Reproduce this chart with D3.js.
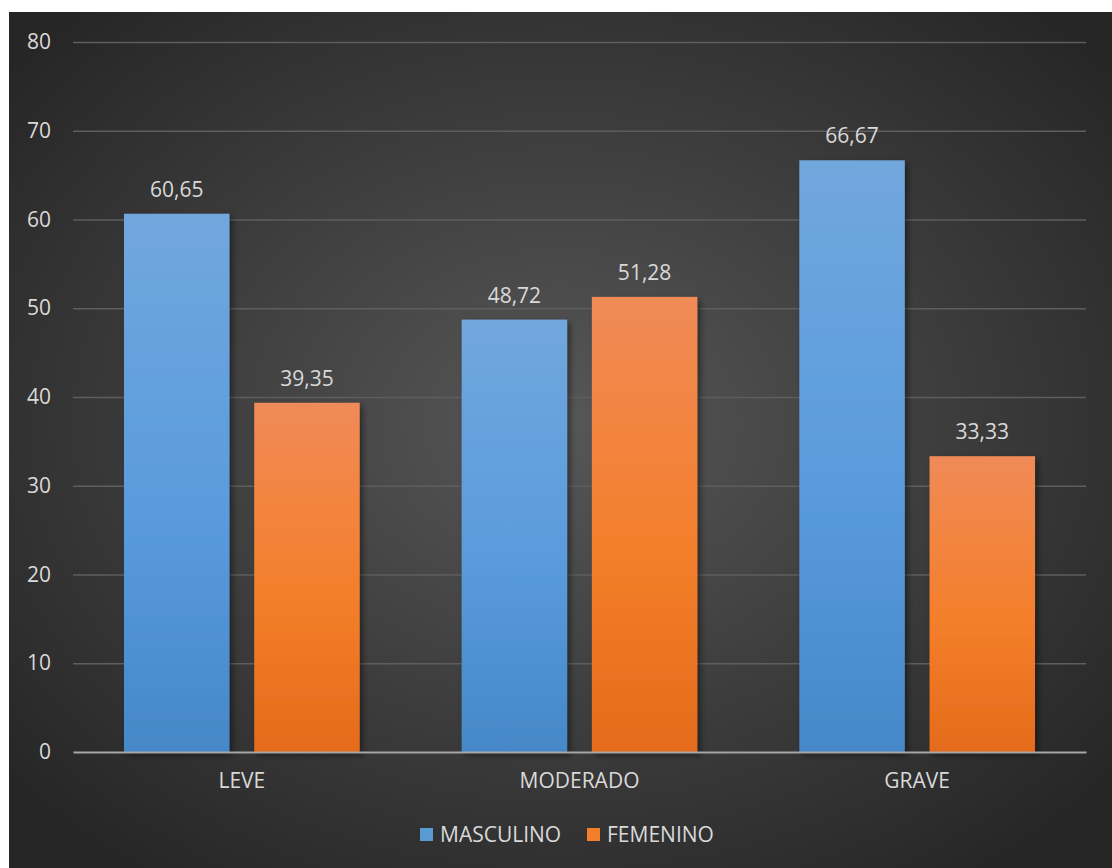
<!DOCTYPE html>
<html>
<head>
<meta charset="utf-8">
<script src="https://cdn.jsdelivr.net/npm/d3@7"></script>
<style>
  html, body { margin: 0; padding: 0; background: #ffffff; }
  svg { display: block; }
  text { font-family: "Open Sans", "Noto Sans", sans-serif; }
</style>
</head>
<body>
<script>
const categories = ["LEVE", "MODERADO", "GRAVE"];
const seriesNames = ["MASCULINO", "FEMENINO"];
const masculino = [60.65, 48.72, 66.67];
const femenino = [39.35, 51.28, 33.33];
const yTicks = [0, 10, 20, 30, 40, 50, 60, 70, 80];

const W = 1112, H = 868;
const FS = "21px";
const svg = d3.select("body").append("svg").attr("width", W).attr("height", H);
const defs = svg.append("defs");

const bg = defs.append("radialGradient").attr("id", "bgGrad")
  .attr("cx", "50%").attr("cy", "48%").attr("r", "65%");
bg.append("stop").attr("offset", "0%").attr("stop-color", "#575757");
bg.append("stop").attr("offset", "100%").attr("stop-color", "#262626");

function barGrad(id, top, mid, bot) {
  const g = defs.append("linearGradient").attr("id", id)
    .attr("x1", 0).attr("y1", 0).attr("x2", 0).attr("y2", 1);
  g.append("stop").attr("offset", "0%").attr("stop-color", top);
  g.append("stop").attr("offset", "55%").attr("stop-color", mid);
  g.append("stop").attr("offset", "100%").attr("stop-color", bot);
}
barGrad("gBlue", "#71a7dd", "#5a9bdd", "#4588c8");
barGrad("gOrange", "#f08a57", "#f47f2b", "#e46b1a");
const fills = ["url(#gBlue)", "url(#gOrange)"];
const legendColors = ["#5b9bd5", "#f47f2b"];

const shadow = defs.append("filter").attr("id", "shadow")
  .attr("x", "-20%").attr("y", "-10%").attr("width", "150%").attr("height", "130%");
shadow.append("feDropShadow").attr("dx", 3).attr("dy", 3).attr("stdDeviation", 3)
  .attr("flood-color", "#000").attr("flood-opacity", 0.45);

svg.append("rect").attr("x", 9).attr("y", 12).attr("width", W - 9).attr("height", H - 12)
  .attr("fill", "url(#bgGrad)");

const plot = { left: 73, right: 1086, top: 42, bottom: 752 };

const y = d3.scaleLinear().domain([0, 80]).range([plot.bottom, plot.top]);
const x0 = d3.scaleBand().domain(categories).range([plot.left, plot.right]).padding(0);
const groupW = x0.bandwidth() * 0.698;
const x1 = d3.scaleBand().domain(seriesNames)
  .range([(x0.bandwidth() - groupW) / 2, (x0.bandwidth() + groupW) / 2])
  .paddingInner(0.19).paddingOuter(0);

const grid = svg.append("g")
  .attr("transform", `translate(${plot.left},0)`)
  .call(d3.axisLeft(y).tickValues(yTicks.filter(t => t > 0)).tickSize(-(plot.right - plot.left)).tickFormat(""));
grid.select(".domain").remove();
grid.selectAll(".tick line").attr("stroke", "#5e5e5e").attr("stroke-width", 1.5);

const yAxis = svg.append("g")
  .attr("transform", `translate(${plot.left},0)`)
  .call(d3.axisLeft(y).tickValues(yTicks).tickSize(0).tickPadding(22).tickFormat(d3.format("d")));
yAxis.select(".domain").remove();
yAxis.selectAll("text").attr("fill", "#d9d9d9").style("font-size", FS)
  .style("font-family", "'Open Sans', 'Noto Sans', sans-serif");

const data = categories.map((c, i) => ({ cat: c, vals: [masculino[i], femenino[i]] }));
const groups = svg.append("g").selectAll("g").data(data).join("g")
  .attr("transform", d => `translate(${x0(d.cat)},0)`);

groups.selectAll("rect").data(d => d.vals.map((v, j) => ({ v, s: seriesNames[j], j })))
  .join("rect")
  .attr("x", d => x1(d.s))
  .attr("width", x1.bandwidth())
  .attr("y", d => y(d.v))
  .attr("height", d => y(0) - y(d.v))
  .attr("fill", d => fills[d.j])
  .attr("filter", "url(#shadow)");

groups.selectAll("text.lbl").data(d => d.vals.map((v, j) => ({ v, s: seriesNames[j] })))
  .join("text").attr("class", "lbl")
  .attr("x", d => x1(d.s) + x1.bandwidth() / 2)
  .attr("y", d => y(d.v) - 17)
  .attr("text-anchor", "middle")
  .attr("fill", "#d9d9d9").style("font-size", FS)
  .text(d => d3.format(".2f")(d.v).replace(".", ","));

const xAxis = svg.append("g")
  .attr("transform", `translate(0,${plot.bottom})`)
  .call(d3.axisBottom(x0).tickSize(0).tickPadding(21));
xAxis.select(".domain").attr("stroke", "#a6a6a6").attr("stroke-width", 2);
xAxis.selectAll("text").attr("fill", "#d9d9d9").style("font-size", FS)
  .style("font-family", "'Open Sans', 'Noto Sans', sans-serif");

const legend = svg.append("g");
const legendItems = [{ name: seriesNames[0], x: 420 }, { name: seriesNames[1], x: 587 }];
legendItems.forEach((it, i) => {
  legend.append("rect").attr("x", it.x).attr("y", 828).attr("width", 13).attr("height", 13)
    .attr("fill", legendColors[i]);
  legend.append("text").attr("x", it.x + 20).attr("y", 842)
    .attr("fill", "#d9d9d9").style("font-size", FS).text(it.name);
});
</script>
</body>
</html>
